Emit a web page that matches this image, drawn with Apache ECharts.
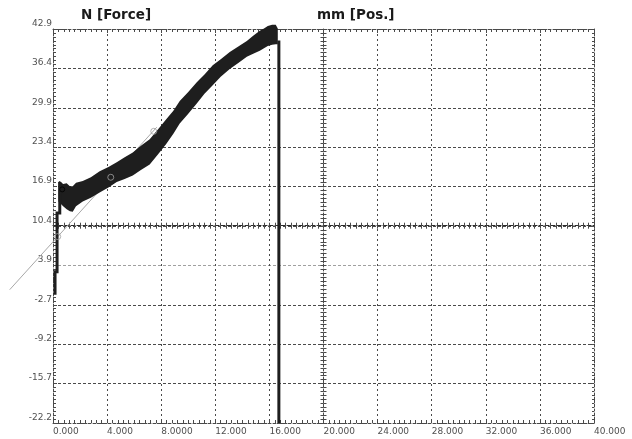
<!DOCTYPE html>
<html>
<head>
<meta charset="utf-8">
<title>N [Force] / mm [Pos.]</title>
<script src="https://cdn.jsdelivr.net/npm/echarts@6/dist/echarts.min.js"></script>
<style>
  html, body { margin: 0; padding: 0; background: #ffffff; }
  #chart { width: 632px; height: 439px; }
</style>
</head>
<body>
<div id="chart"></div>
<script>
// Axis ranges and tick labels
const X_TICK_LABELS = ['0.000', '4.000', '8.0000', '12.000', '16.000', '20.000', '24.000', '28.000', '32.000', '36.000', '40.000'];
const Y_TICK_LABELS = ['-22.2', '-15.7', '-9.2', '-2.7', '3.9', '10.4', '16.9', '23.4', '29.9', '36.4', '42.9'];
const X_MIN = 0, X_MAX = 40, X_STEP = 4;
const Y_MIN = -22.2, Y_MAX = 42.9, Y_STEP = 6.51;
const POS_ZERO_FORCE = 10.4;   // force level where the position axis has its zero
const POS_ZERO_MM = 20;        // position of the vertical position axis

// Force band (noisy trace): envelope of the measured force, mm / N
const bandPos  = [0.40, 0.50, 0.75, 1.01, 1.25, 1.46, 1.70, 2.20, 2.80, 3.45, 4.10, 4.71, 5.30, 5.90, 6.50, 7.15, 7.80, 8.37, 8.90, 9.37, 10.00, 10.63, 11.20, 11.81, 12.40, 13.07, 13.70, 14.33, 14.80, 15.29, 15.60, 15.88, 16.20, 16.47, 16.62];
const bandHigh = [17.6, 17.8, 17.3, 17.4, 16.9, 16.9, 17.5, 17.8, 18.4, 19.4, 20.1, 20.9, 21.7, 22.5, 23.6, 24.7, 26.4, 28.0, 29.4, 31.0, 32.5, 34.1, 35.4, 36.9, 37.9, 39.1, 40.0, 40.9, 41.8, 42.6, 43.0, 43.4, 43.6, 43.6, 43.0];
const bandLow  = [14.4, 14.2, 13.6, 13.1, 12.8, 12.7, 13.6, 14.4, 15.0, 15.9, 16.7, 17.6, 18.1, 18.7, 19.6, 20.5, 22.3, 23.9, 25.6, 27.3, 28.9, 30.6, 32.2, 33.6, 35.0, 36.3, 37.3, 38.3, 38.8, 39.3, 39.7, 40.1, 40.3, 40.4, 40.4];

// Initial rise and final break of the trace, mm / N
const risePos   = [0.15, 0.15, 0.30, 0.30, 0.50, 0.50];
const riseForce = [-1.0, 2.8, 2.8, 12.5, 12.5, 17.6];
const breakPos   = [16.70, 16.70];
const breakForce = [41.0, -22.2];

// Fitted slope line and its reference markers, mm / N
const slopePos   = [-3.20, 7.67];
const slopeForce = [-0.17, 26.67];
const slopeMarkPos   = [0.35, 4.27, 7.45];
const slopeMarkForce = [8.6, 18.4, 26.0];
const peakMarkPos   = [0.68];
const peakMarkForce = [16.4];

// Force values are shifted so the axis starts at zero and ticks land on Y_MIN + k*Y_STEP
const fy = v => v - Y_MIN;
const pairs = (xs, ys) => xs.map((x, i) => [x, fy(ys[i])]);

const INK = '#4a4a4a';
const LABEL = '#505050';
const FONT = 'DejaVu Sans';

const chart = echarts.init(document.getElementById('chart'), null, { renderer: 'canvas' });

const hidden = { show: false };

chart.setOption({
  backgroundColor: '#ffffff',
  animation: false,
  title: [
    { text: 'N [Force]', left: 76, top: 3, textStyle: { fontFamily: FONT, fontSize: 13.5, fontWeight: 'bold', color: '#1a1a1a' } },
    { text: 'mm [Pos.]', left: 312, top: 3, textStyle: { fontFamily: FONT, fontSize: 13.5, fontWeight: 'bold', color: '#1a1a1a' } }
  ],
  grid: { left: 53, right: 38, top: 29, bottom: 16, outerBoundsMode: 'none' },
  xAxis: [
    { // bottom axis with labels and vertical grid
      type: 'value', min: X_MIN, max: X_MAX, interval: X_STEP, position: 'bottom',
      axisLine: { onZero: false, lineStyle: { color: INK, type: [2, 2] } },
      axisTick: { inside: true, length: 4, lineStyle: { color: INK } },
      minorTick: { show: true, splitNumber: 10, length: 3, lineStyle: { color: INK } },
      splitLine: { show: true, lineStyle: { color: INK, type: [2, 3] } },
      axisLabel: {
        formatter: v => X_TICK_LABELS[Math.round((v - X_MIN) / X_STEP)],
        align: 'left', margin: 4, fontSize: 9, fontFamily: FONT, color: LABEL,
        showMinLabel: true, showMaxLabel: true, hideOverlap: false
      }
    },
    { // top frame
      type: 'value', min: X_MIN, max: X_MAX, interval: X_STEP, position: 'top',
      axisLine: { onZero: false, lineStyle: { color: INK, type: [2, 2] } },
      axisTick: { inside: true, length: 4, lineStyle: { color: INK } },
      minorTick: { show: true, splitNumber: 10, length: 3, lineStyle: { color: INK } },
      splitLine: hidden, axisLabel: hidden
    },
    { // position-zero line, upper tick half
      type: 'value', min: X_MIN, max: X_MAX, interval: X_STEP, position: 'bottom',
      axisLine: { onZero: true, onZeroAxisIndex: 1, lineStyle: { color: '#2a2a2a', width: 1.2, type: [4, 2] } },
      axisTick: { inside: true, length: 3, lineStyle: { color: INK } },
      minorTick: { show: true, splitNumber: 10, length: 3, lineStyle: { color: INK } },
      splitLine: hidden, axisLabel: hidden
    },
    { // position-zero line, lower tick half
      type: 'value', min: X_MIN, max: X_MAX, interval: X_STEP, position: 'bottom',
      axisLine: { show: false, onZero: true, onZeroAxisIndex: 1 },
      axisTick: { inside: false, length: 3, lineStyle: { color: INK } },
      minorTick: { show: true, splitNumber: 10, length: 3, lineStyle: { color: INK } },
      splitLine: hidden, axisLabel: hidden
    },
    { // helper scale centred on the position axis
      type: 'value', min: X_MIN - POS_ZERO_MM, max: X_MAX - POS_ZERO_MM, show: false,
      axisLine: { onZero: false }
    }
  ],
  yAxis: [
    { // force axis with labels and horizontal grid
      type: 'value', min: 0, max: Y_MAX - Y_MIN, interval: Y_STEP, position: 'left',
      axisLine: { onZero: false, lineStyle: { color: INK, type: [2, 2] } },
      axisTick: { inside: true, length: 4, lineStyle: { color: INK } },
      minorTick: { show: true, splitNumber: 10, length: 3, lineStyle: { color: INK } },
      splitLine: {
        show: true,
        lineStyle: { color: [INK, INK, INK, INK, '#a0a0a0', INK, INK, INK, INK, INK, INK], type: [3, 2] }
      },
      axisLabel: {
        formatter: v => Y_TICK_LABELS[Math.round(v / Y_STEP)],
        margin: 1, fontSize: 9, fontFamily: FONT, color: LABEL,
        verticalAlign: 'bottom', lineHeight: 11,
        showMinLabel: true, showMaxLabel: true, hideOverlap: false
      }
    },
    { // position axis, right tick half
      type: 'value', min: Y_MIN - POS_ZERO_FORCE, max: Y_MAX - POS_ZERO_FORCE, interval: Y_STEP / 10, position: 'left',
      axisLine: { onZero: true, onZeroAxisIndex: 4, lineStyle: { color: INK, type: [2, 2] } },
      axisTick: { inside: true, length: 3, lineStyle: { color: INK } },
      splitLine: hidden, axisLabel: hidden
    },
    { // position axis, left tick half
      type: 'value', min: Y_MIN - POS_ZERO_FORCE, max: Y_MAX - POS_ZERO_FORCE, interval: Y_STEP / 10, position: 'left',
      axisLine: { show: false, onZero: true, onZeroAxisIndex: 4 },
      axisTick: { inside: false, length: 3, lineStyle: { color: INK } },
      splitLine: hidden, axisLabel: hidden
    },
    { // right frame
      type: 'value', min: 0, max: Y_MAX - Y_MIN, interval: Y_STEP, position: 'right',
      axisLine: { onZero: false, lineStyle: { color: INK, type: [2, 2] } },
      axisTick: { inside: true, length: 3, lineStyle: { color: INK } },
      minorTick: { show: true, splitNumber: 10, length: 2, lineStyle: { color: INK } },
      splitLine: hidden, axisLabel: hidden
    }
  ],
  series: [
    { // fitted slope line (extends past the left edge of the plot)
      type: 'custom', xAxisIndex: 0, yAxisIndex: 0, clip: false, silent: true, z: 3,
      data: [[slopePos[0], fy(slopeForce[0])]],
      renderItem: (params, api) => {
        const a = api.coord([slopePos[0], fy(slopeForce[0])]);
        const b = api.coord([slopePos[1], fy(slopeForce[1])]);
        return {
          type: 'line',
          shape: { x1: a[0], y1: a[1], x2: b[0], y2: b[1] },
          style: { stroke: '#a8a8a8', lineWidth: 1 }
        };
      }
    },
    { // noisy force envelope
      type: 'custom', xAxisIndex: 0, yAxisIndex: 0, clip: false, silent: true, z: 4,
      data: [[bandPos[0], fy(bandHigh[0])]],
      renderItem: (params, api) => {
        const pts = [];
        for (let i = 0; i < bandPos.length; i++) pts.push(api.coord([bandPos[i], fy(bandHigh[i])]));
        for (let i = bandPos.length - 1; i >= 0; i--) pts.push(api.coord([bandPos[i], fy(bandLow[i])]));
        return { type: 'polygon', shape: { points: pts }, style: { fill: '#1e1e1e' } };
      }
    },
    { // initial rise
      type: 'line', xAxisIndex: 0, yAxisIndex: 0, clip: false, silent: true, z: 4,
      data: pairs(risePos, riseForce), showSymbol: false,
      lineStyle: { color: '#1e1e1e', width: 3, cap: 'butt', join: 'miter' }
    },
    { // break
      type: 'line', xAxisIndex: 0, yAxisIndex: 0, clip: false, silent: true, z: 4,
      data: pairs(breakPos, breakForce), showSymbol: false,
      lineStyle: { color: '#1e1e1e', width: 3, cap: 'butt' }
    },
    { // slope reference markers
      type: 'scatter', xAxisIndex: 0, yAxisIndex: 0, clip: false, silent: true, z: 5,
      data: pairs(slopeMarkPos, slopeMarkForce), symbol: 'circle', symbolSize: 6,
      itemStyle: { color: 'rgba(255,255,255,0)', borderColor: '#a0a0a0', borderWidth: 1 }
    },
    { // peak marker
      type: 'scatter', xAxisIndex: 0, yAxisIndex: 0, clip: false, silent: true, z: 5,
      data: pairs(peakMarkPos, peakMarkForce), symbol: 'circle', symbolSize: 5,
      itemStyle: { color: 'rgba(255,255,255,0)', borderColor: '#000000', borderWidth: 1 }
    }
  ]
});
</script>
</body>
</html>
